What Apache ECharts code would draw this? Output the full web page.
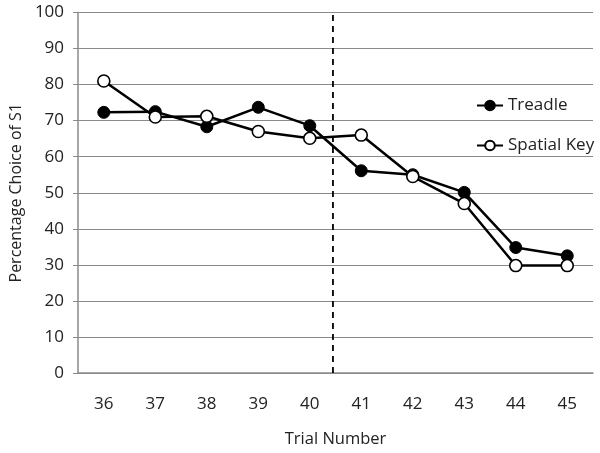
<!DOCTYPE html>
<html><head><meta charset="utf-8">
<script src="https://cdn.jsdelivr.net/npm/echarts@6/dist/echarts.min.js"></script>
<style>html,body{margin:0;padding:0;background:#fff}#c{width:600px;height:453px}</style>
</head><body><div id="c"></div>
<script>
var trials = ['36','37','38','39','40','41','42','43','44','45'];
var treadle = [72.3, 72.5, 68.3, 73.7, 68.6, 56.1, 55.0, 50.1, 34.8, 32.5];
var spatialKey = [81.0, 71.0, 71.2, 67.0, 65.1, 66.0, 54.5, 47.0, 29.8, 29.8];
var yTicks = {min: 0, max: 100, interval: 10};
var dividerAt = 40.45; // between trial 40 and 41
var dividerSpan = [0, 100];

var font = '"Open Sans", sans-serif';
var chart = echarts.init(document.getElementById('c'));
chart.setOption({
  animation: false,
  backgroundColor: '#fff',
  textStyle: {fontFamily: font},
  grid: {left: 77, right: 7, top: 12.5, bottom: 78, containLabel: false},
  legend: {
    orient: 'vertical', left: 476, top: 97, itemGap: 23, padding: 0,
    itemWidth: 26, itemHeight: 12,
    textStyle: {fontFamily: font, fontSize: 17, color: '#222'},
    data: ['Treadle', 'Spatial Key']
  },
  xAxis: [{
    type: 'category', data: trials, boundaryGap: true,
    name: 'Trial Number', nameLocation: 'middle', nameGap: 58,
    nameTextStyle: {fontFamily: font, fontSize: 16.5, color: '#222'},
    axisLine: {lineStyle: {color: '#8a8a8a', width: 1.5}},
    axisTick: {alignWithLabel: true, inside: true, length: 4, lineStyle: {color: '#8a8a8a'}},
    axisLabel: {fontFamily: font, fontSize: 17, color: '#222', margin: 23}
  }, {
    type: 'value', min: 35.5, max: 45.5, show: false, position: 'bottom'
  }],
  yAxis: {
    type: 'value', min: yTicks.min, max: yTicks.max, interval: yTicks.interval,
    name: 'Percentage Choice of S1', nameLocation: 'middle', nameGap: 51,
    nameTextStyle: {fontFamily: font, fontSize: 16, color: '#222'},
    axisLine: {show: true, lineStyle: {color: '#8a8a8a', width: 1.5}},
    axisTick: {show: true, inside: false, length: 5, lineStyle: {color: '#8a8a8a'}},
    axisLabel: {fontFamily: font, fontSize: 17, color: '#222', margin: 14},
    splitLine: {lineStyle: {color: '#8a8a8a', width: 1.2}}
  },
  series: [
    {
      name: 'divider', type: 'line', xAxisIndex: 1, silent: true, z: 2,
      data: [[dividerAt, dividerSpan[0]], [dividerAt, dividerSpan[1]]],
      symbol: 'none', lineStyle: {color: '#000', type: [6, 5], width: 1.8}
    },
    {
      name: 'Treadle', type: 'line', data: treadle, z: 3,
      symbol: 'circle', symbolSize: 12,
      lineStyle: {color: '#000', width: 2.5},
      itemStyle: {color: '#000', borderColor: '#000', borderWidth: 1}
    },
    {
      name: 'Spatial Key', type: 'line', data: spatialKey, z: 4,
      symbol: 'circle', symbolSize: 12,
      lineStyle: {color: '#000', width: 2.5},
      itemStyle: {color: '#fff', borderColor: '#000', borderWidth: 1.6}
    }
  ]
});
</script></body></html>
